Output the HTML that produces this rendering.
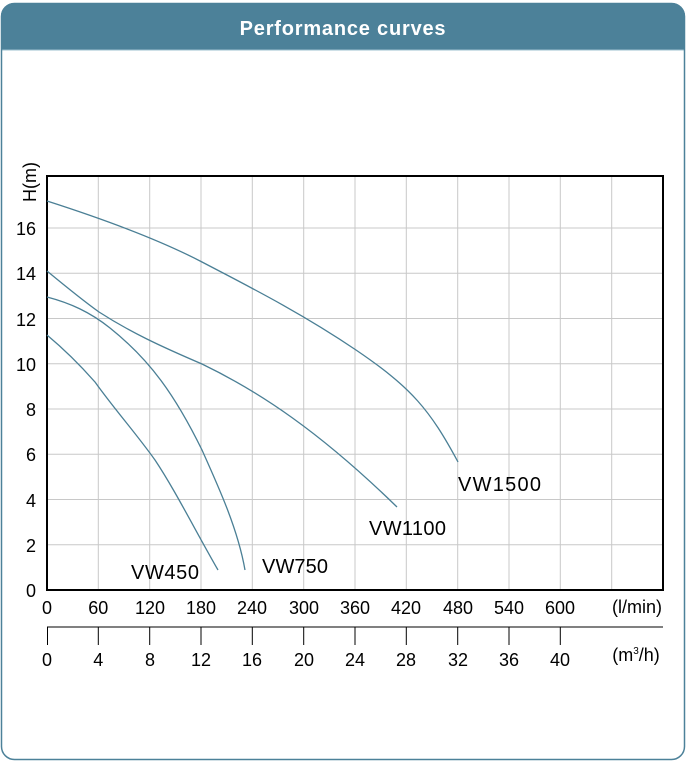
<!DOCTYPE html><html><head><style>body{margin:0;background:#fff}svg{display:block}text{font-family:"Liberation Sans",Arial,sans-serif}</style></head><body>
<svg width="686" height="763" viewBox="0 0 686 763">
<defs><clipPath id="c"><rect x="1" y="3" width="684" height="757" rx="13"/></clipPath></defs>
<rect x="1" y="3" width="684" height="757" rx="13" fill="#fff"/>
<rect x="1" y="3" width="684" height="47" fill="#4c8199" clip-path="url(#c)"/>
<line x1="1" y1="50" x2="685" y2="50" stroke="#9cc0cf" stroke-width="1"/>
<rect x="1.5" y="3.5" width="683" height="756" rx="13" fill="none" stroke="#4c8199" stroke-width="1.5"/>
<text x="343" y="35" text-anchor="middle" fill="#fff" font-size="20" font-weight="bold" letter-spacing="0.8">Performance curves</text>
<g stroke="#c8c8c8" stroke-width="1">
<line x1="98.3" y1="176" x2="98.3" y2="590"/><line x1="149.7" y1="176" x2="149.7" y2="590"/><line x1="201" y1="176" x2="201" y2="590"/><line x1="252.3" y1="176" x2="252.3" y2="590"/><line x1="303.7" y1="176" x2="303.7" y2="590"/><line x1="355" y1="176" x2="355" y2="590"/><line x1="406.3" y1="176" x2="406.3" y2="590"/><line x1="457.7" y1="176" x2="457.7" y2="590"/><line x1="509" y1="176" x2="509" y2="590"/><line x1="560.3" y1="176" x2="560.3" y2="590"/><line x1="611.7" y1="176" x2="611.7" y2="590"/>
<line x1="47" y1="544.75" x2="663" y2="544.75"/><line x1="47" y1="499.5" x2="663" y2="499.5"/><line x1="47" y1="454.25" x2="663" y2="454.25"/><line x1="47" y1="409" x2="663" y2="409"/><line x1="47" y1="363.75" x2="663" y2="363.75"/><line x1="47" y1="318.5" x2="663" y2="318.5"/><line x1="47" y1="273.25" x2="663" y2="273.25"/><line x1="47" y1="228" x2="663" y2="228"/>
</g>
<rect x="47" y="176" width="616" height="414" fill="none" stroke="#000" stroke-width="2"/>
<g fill="none" stroke="#4a7f95" stroke-width="1.3">
<path d="M47,201 C100,218 160,240 202,262 S300,312 356,350 S430,410 458,462"/>
<path d="M47,271 C70,290 85,302 99,312 C130,332 160,346 202,364 C260,392 320,432 397,507"/>
<path d="M47,297 C70,303 90,312 110,328 C150,360 175,395 202,450 C220,490 238,530 245,570"/>
<path d="M47,335 C65,350 80,365 95,382 C115,410 135,432 155,460 C175,490 195,530 218,570"/>
</g>
<g font-size="20" fill="#000">
<text x="458" y="491" textLength="83">VW1500</text><text x="369" y="535" textLength="77">VW1100</text><text x="262" y="573" textLength="66">VW750</text><text x="131" y="579" textLength="68">VW450</text>
</g>
<g font-size="18" fill="#000" text-anchor="end">
<text x="36" y="597">0</text><text x="36" y="552">2</text><text x="36" y="507">4</text><text x="36" y="461">6</text><text x="36" y="416">8</text><text x="36" y="371">10</text><text x="36" y="326">12</text><text x="36" y="280">14</text><text x="36" y="235">16</text>
</g>
<text transform="translate(36,182) rotate(-90)" font-size="18" fill="#000" text-anchor="middle">H(m)</text>
<g font-size="18" fill="#000" text-anchor="middle">
<text x="47" y="614">0</text><text x="98.3" y="614">60</text><text x="150" y="614">120</text><text x="201" y="614">180</text><text x="252" y="614">240</text><text x="304" y="614">300</text><text x="355" y="614">360</text><text x="406" y="614">420</text><text x="458" y="614">480</text><text x="509" y="614">540</text><text x="560" y="614">600</text><text x="637" y="613">(l/min)</text>
<text x="47" y="666">0</text><text x="98.3" y="666">4</text><text x="150" y="666">8</text><text x="201" y="666">12</text><text x="252" y="666">16</text><text x="304" y="666">20</text><text x="355" y="666">24</text><text x="406" y="666">28</text><text x="458" y="666">32</text><text x="509" y="666">36</text><text x="560" y="666">40</text>
<text x="636" y="661">(m<tspan font-size="10" dy="-7">3</tspan><tspan dy="7">/h)</tspan></text>
</g>
<g stroke="#000" stroke-width="1">
<line x1="47" y1="627" x2="663" y2="627"/>
<line x1="47.5" y1="627" x2="47.5" y2="645"/><line x1="98.3" y1="627" x2="98.3" y2="645"/><line x1="149.7" y1="627" x2="149.7" y2="645"/><line x1="201" y1="627" x2="201" y2="645"/><line x1="252.3" y1="627" x2="252.3" y2="645"/><line x1="303.7" y1="627" x2="303.7" y2="645"/><line x1="355" y1="627" x2="355" y2="645"/><line x1="406.3" y1="627" x2="406.3" y2="645"/><line x1="457.7" y1="627" x2="457.7" y2="645"/><line x1="509" y1="627" x2="509" y2="645"/><line x1="560.3" y1="627" x2="560.3" y2="645"/>
</g>
</svg></body></html>
